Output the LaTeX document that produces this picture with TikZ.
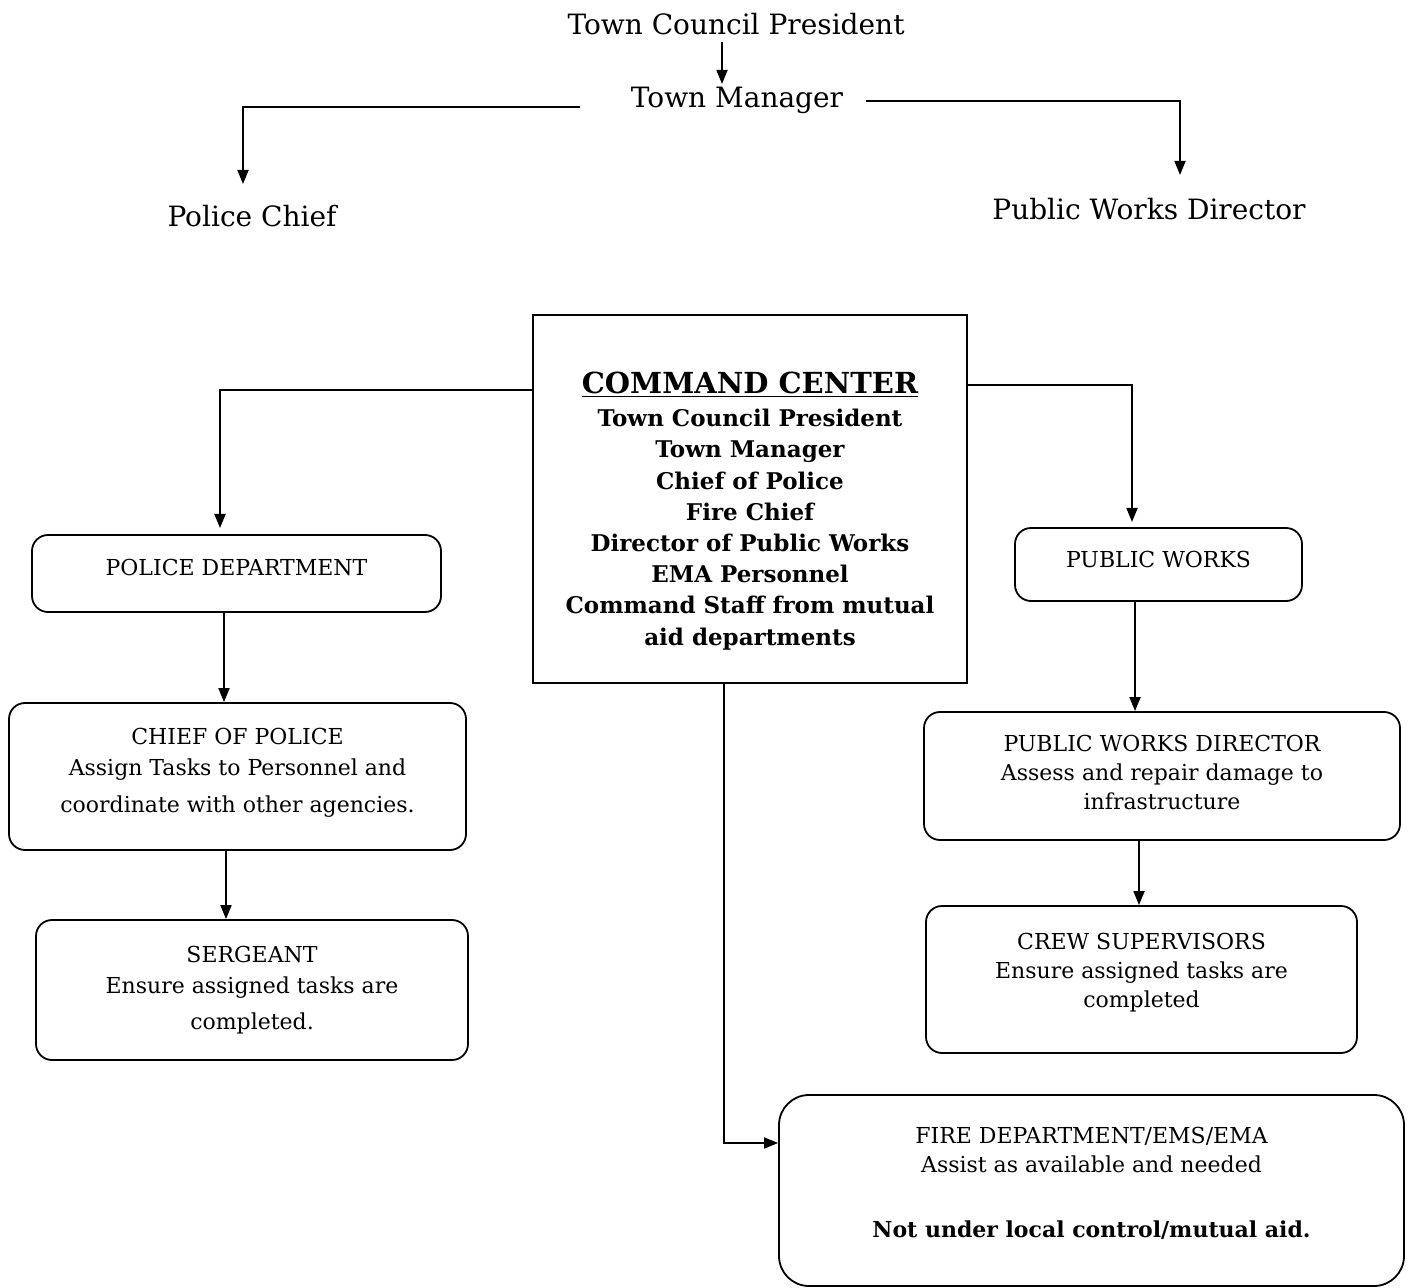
\documentclass[tikz,border=0pt]{standalone}
\usepackage{fontspec}
\setmainfont{DejaVu Serif}
\usetikzlibrary{arrows.meta}
\newcommand{\dpt}[1]{\rule[-#1]{0pt}{0pt}}
\begin{document}
\begin{tikzpicture}[x=0.5pt,y=-0.5pt,
  conn/.style={line width=0.9pt},
  arr/.style={line width=0.9pt,-{Triangle[length=7pt,width=5.5pt]}},
  rbox/.style={draw,line width=0.9pt,rounded corners=8pt,align=center,inner sep=0pt,font=\fontsize{11}{16}\selectfont},
  top/.style={font=\fontsize{14}{17}\selectfont,inner sep=1pt},
]
\useasboundingbox (0,0) rectangle (1408,1288);
% top org chart
\node[top] (tcp) at (736,24) {Town Council President};
\node[top] (tm) at (737,100) {Town Manager};
\node[top] (pc) at (252,216) {Police Chief};
\node[top] (pwd) at (1149,209) {Public Works Director};
\coordinate (a1) at (722,42);
\coordinate (a2) at (722,84);
\draw[arr] (a1) -- (a2);
\coordinate (l1) at (580,107);
\coordinate (l2) at (243,184);
\draw[arr] (l1) -| (l2);
\coordinate (r1) at (866,101);
\coordinate (r2) at (1180,175);
\draw[arr] (r1) -| (r2);
% command center
\node[draw,line width=0.9pt,minimum width=217pt,minimum height=184pt,inner sep=0pt,align=center,font=\bfseries\fontsize{11.5}{15.6}\selectfont] (cc) at (750,499)
 {\rule{0pt}{22.6pt}{\fontsize{14.5}{18}\selectfont\underline{COMMAND CENTER}}\\[1pt]
 Town Council President\\ Town Manager\\ Chief of Police\\ Fire Chief\\ Director of Public Works\\ EMA Personnel\\ Command Staff from mutual\\ aid departments};
% left column
\node[rbox,minimum width=204.5pt,minimum height=38.5pt] (pd) at (236.5,573.5) {POLICE DEPARTMENT\dpt{6pt}};
\node[rbox,minimum width=228.5pt,minimum height=73.5pt,font=\fontsize{11}{17}\selectfont] (cp) at (237.5,776.5) {CHIEF OF POLICE\\[-1.5pt] Assign Tasks to Personnel and\\[1.5pt] coordinate with other agencies.\dpt{6pt}};
\node[rbox,minimum width=216pt,minimum height=70pt,font=\fontsize{11}{17}\selectfont] (sg) at (252,990) {SERGEANT\\[-1.5pt] Ensure assigned tasks are\\[1pt] completed.};
% right column
\node[rbox,minimum width=143.5pt,minimum height=36.5pt] (pw) at (1158.5,564.5) {PUBLIC WORKS\dpt{5pt}};
\node[rbox,minimum width=238pt,minimum height=64pt,font=\fontsize{11}{14.5}\selectfont] (pwdir) at (1162,776) {PUBLIC WORKS DIRECTOR\\ Assess and repair damage to\\ infrastructure\dpt{4pt}};
\node[rbox,minimum width=215.5pt,minimum height=73.5pt,font=\fontsize{11}{14.5}\selectfont] (crew) at (1141.5,979.5) {CREW SUPERVISORS\\ Ensure assigned tasks are\\ completed\dpt{9.3pt}};
% fire
\node[rbox,rounded corners=15pt,minimum width=312.5pt,minimum height=95.5pt,font=\fontsize{11}{14.5}\selectfont] (fire) at (1091.5,1190.5) {FIRE DEPARTMENT/EMS/EMA\\ Assist as available and needed\\[18pt] \textbf{Not under local control/mutual aid.}\dpt{8pt}};
% connectors
\coordinate (c1) at (533,390);
\coordinate (c2) at (220,528);
\draw[arr] (c1) -| (c2);
\coordinate (c3) at (967,385);
\coordinate (c4) at (1132,522);
\draw[arr] (c3) -| (c4);
\draw[arr] (pd.south -| 224,0) -- (cp.north -| 224,0);
\draw[arr] (cp.south -| 226,0) -- (sg.north -| 226,0);
\draw[arr] (pw.south -| 1135,0) -- (pwdir.north -| 1135,0);
\draw[arr] (pwdir.south -| 1139,0) -- (crew.north -| 1139,0);
\coordinate (f1) at (724,1143);
\draw[arr] (cc.south -| 724,0) -- (f1) -- (fire.west |- f1);
\end{tikzpicture}
\end{document}
